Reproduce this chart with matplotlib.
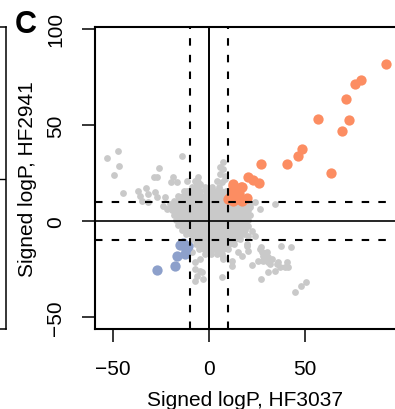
import matplotlib
matplotlib.use("Agg")
import matplotlib.pyplot as plt
import numpy as np

plt.rcParams['font.family'] = ['Liberation Sans', 'DejaVu Sans']

# ---------------- data ----------------
# scattered gray (non-significant) points: x = HF3037, y = HF2941
gray_x = [-53.3, -47.6, -46.9, -49.3, -44.6, -37.2, -35.9, -33.0, -31.6, -28.5, -27.2, -25.9,
          -28.1, -27.2, -22.9, -19.8, -18.6, -23.8, -22.0, -20.3, -35.0, -31.6, -14.2, -16.8,
          -11.6, -6.4, -5.6, -4.7, -11.6, -8.2, -7.3, -5.6,
          7.1, 5.7, 8.3, 4.3, 6.6, 4.9, 7.5, 5.7, 8.3,
          26.6, 34.4, 21.4, 19.6, 21.4, 24.0,
          20.5, 22.2, 24.0, 20.5, 19.6, 20.5, 26.6, 27.4, 30.0, 28.3, 30.9, 25.7, 28.3, 30.9,
          31.8, 35.3, 36.1, 40.5, 39.6, 41.3, 34.4, 30.9, 22.6, 26.9, 37.5, 42.5, 44.8, 47.9,
          50.3, 27.1, 32.6, 37.0,
          7.5, 11.8, 6.6, -7.3, -6.4, -3.8, -7.3, -7.3, -4.7, -3.0, -9.0, -4.7, 5.7, 7.5,
          15.3, 11.8, 19.6, 17.0]
gray_y = [32.7, 36.3, 28.5, 24.0, 14.6, 15.8, 13.2, 17.0, 14.0, 23.1, 22.7, 27.6,
          15.3, 12.3, 12.3, 20.2, 22.7, 8.0, 6.3, 8.9, 10.6, 9.7, 34.0, 20.1,
          21.0, 19.3, 20.5, 19.3, 15.8, 15.0, 21.0, 22.7,
          30.6, 28.0, 23.6, 21.0, 20.5, 15.0, 27.0, 24.5, 21.9,
          6.3, 8.9, 7.1, 4.5, 8.9, 10.0,
          -2.4, -5.0, -7.6, -7.6, -12.0, -15.5, -14.6, -16.3, -16.3, -18.1, -18.9, -20.7, -20.7, -21.5,
          -22.4, -22.4, -21.5, -21.2, -24.1, -24.1, -25.9, -26.7, -22.9, -30.2, -13.2, -13.7, -36.8, -33.7,
          -31.6, -13.7, -19.8, -24.1,
          -18.9, -23.3, -29.3, -25.0, -28.5, -26.7, -31.1, -21.5, -25.9, -30.2, -16.3, -19.8, -16.3, -19.8,
          -16.3, -20.7, -12.9, -18.1]

# dense gray core, row by row (y value, x values)
core_rows = [
    (17.5, [-9, -5.5, -2, 1.5, 5]),
    (15.5, [-13, -10.5, -7.5, -4.5, -1.5, 1, 3.5, 6, 9]),
    (13.0, [-16, -13.5, -11, -8.5, -6, -3.5, -1, 1.5, 4, 6.5, 9]),
    (10.5, [-18, -15.5, -13, -10.5, -8, -5.5, -3, -0.5, 2, 4.5, 7, 9.5]),
    (8.0, [-19, -16.5, -14, -11.5, -9, -6.5, -4, -1.5, 1, 3.5, 6, 8.5, 11, 13.5, 16, 18.5]),
    (5.5, [-19.5, -17, -14.5, -12, -9.5, -7, -4.5, -2, 0.5, 3, 5.5, 8, 10.5, 13, 15.5, 18, 20.5]),
    (3.0, [-18.5, -16, -13.5, -11, -8.5, -6, -3.5, -1, 1.5, 4, 6.5, 9, 11.5, 14, 16.5, 19, 21.5]),
    (0.5, [-17, -14.5, -12, -9.5, -7, -4.5, -2, 0.5, 3, 5.5, 8, 10.5, 13, 15.5, 18, 20.5]),
    (-2.0, [-16, -13.5, -11, -8.5, -6, -3.5, -1, 1.5, 4, 6.5, 9, 11.5, 14, 16.5, 19]),
    (-4.5, [-14, -11.5, -9, -6.5, -4, -1.5, 1, 3.5, 6, 8.5, 11, 13.5, 16, 18.5]),
    (-7.0, [-12, -9.5, -7, -4.5, -2, 0.5, 3, 5.5, 8, 10.5, 13, 15.5, 18]),
    (-9.5, [-9, -6.5, -4, -1.5, 1, 3.5, 6, 8.5, 11, 13.5, 16]),
    (-12.0, [-7, -4.5, -2, 0.5, 3, 5.5, 8, 10.5, 13]),
    (-14.5, [-5, -2.5, 0, 2.5, 5, 7.5, 10]),
    (-17.0, [-2, 1, 4, 7]),
]

# significant in both, same direction (orange)
up_x = [92.0, 79.0, 76.2, 71.4, 56.9, 72.7, 69.1, 48.4, 46.5, 27.3, 40.6, 63.4, 20.5, 23.1,
        26.2, 12.3, 17.2, 11.8, 16.5, 12.7, 10.0, 14.4, 17.0, 12.3, 11.8, 19.6, 13.5, 15.5, 11.0]
up_y = [81.6, 73.6, 71.2, 63.4, 53.0, 52.8, 46.7, 37.7, 33.9, 29.7, 29.7, 25.2, 22.8, 21.4,
        19.8, 19.1, 17.7, 15.3, 17.9, 18.4, 11.5, 11.5, 10.6, 10.5, 14.0, 12.0, 13.0, 14.5, 12.5]

# significant in both, negative (blue)
down_x = [-27.1, -17.5, -16.5, -12.3, -13.7, -10.8, -15.0, -12.0]
down_y = [-25.5, -23.3, -18.0, -17.0, -11.3, -12.9, -12.5, -14.5]

x_ticks = [-50, 0, 50]
y_ticks = [-50, 0, 50, 100]
threshold = 10

# ---------------- figure ----------------
W, H = 395, 410
fig = plt.figure(figsize=(W / 100, H / 100), dpi=100)

def px_rect(l, t, r, b):
    return [l / W, 1 - b / H, (r - l) / W, (b - t) / H]

ax = fig.add_axes(px_rect(95, 28, 402, 330))
ax.set_xlim(-59.4, 100.5)
ax.set_ylim(-56.25, 101.0)

gx = list(gray_x)
gy = list(gray_y)
for yv, xs in core_rows:
    gx.extend(xs)
    gy.extend([yv] * len(xs))

ax.scatter(gx, gy, s=24, color='#c9c9c9', linewidths=0, zorder=2)
ax.scatter(up_x, up_y, s=55, color='#FC8D62', linewidths=0, zorder=3)
ax.scatter(down_x, down_y, s=55, color='#8DA0CB', linewidths=0, zorder=3)

dash = (0, (3.6, 4.4))
for v in (-threshold, threshold):
    ax.axvline(v, color='black', lw=1.5, linestyle=dash, zorder=4)
    ax.axhline(v, color='black', lw=1.5, linestyle=dash, zorder=4)
ax.axvline(0, color='black', lw=1.4, zorder=4)
ax.axhline(0, color='black', lw=1.2, zorder=4)

for sp in ax.spines.values():
    sp.set_linewidth(1.5)

ax.set_xticks(x_ticks)
ax.set_yticks(y_ticks)
ax.set_xticklabels(['\u221250', '0', '50'])
ax.set_yticklabels(['\u221250', '0', '50', '100'], rotation=90, va='center')
ax.tick_params(length=9.4, width=1.1, labelsize=15, pad=12)

fig.text(245 / W, 1 - 406 / H, 'Signed logP, HF3037', fontsize=15,
         ha='center', va='baseline')
fig.text(33 / W, 1 - 179 / H, 'Signed logP, HF2941', fontsize=15, rotation=90,
         rotation_mode='anchor', ha='center', va='baseline')
fig.text(26 / W, 1 - 33 / H, 'C', fontsize=22, fontweight='bold',
         ha='center', va='baseline')

# right edge of the neighbouring panel
ax0 = fig.add_axes(px_rect(-200, 28, 6, 330))
ax0.set_xlim(0, 1)
ax0.set_ylim(0, 1)
ax0.set_xticks([])
ax0.set_yticks([])
for sp in ax0.spines.values():
    sp.set_linewidth(1.1)
ax0.axhline((330 - 180) / 302, color='black', lw=1.0)

fig.savefig('out.png', dpi=100)
